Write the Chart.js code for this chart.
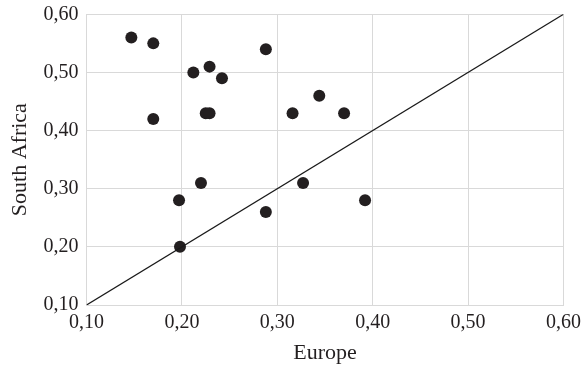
<!DOCTYPE html>
<html>
<head>
<meta charset="utf-8">
<script src="https://cdn.jsdelivr.net/npm/chart.js@4.4.0/dist/chart.umd.min.js"></script>
<style>
  html, body { margin: 0; padding: 0; background: #ffffff; }
  #wrap { width: 588px; height: 370px; position: relative; }
</style>
</head>
<body>
<div id="wrap"><canvas id="c"></canvas></div>
<script>
const europe = [0.147, 0.170, 0.288, 0.212, 0.229, 0.242, 0.170, 0.225, 0.229, 0.316, 0.344, 0.370, 0.220, 0.197, 0.198, 0.288, 0.327, 0.392];
const southAfrica = [0.56, 0.55, 0.54, 0.50, 0.51, 0.49, 0.42, 0.43, 0.43, 0.43, 0.46, 0.43, 0.31, 0.28, 0.20, 0.26, 0.31, 0.28];
const parityLineX = [0.10, 0.60];
const parityLineY = [0.10, 0.60];
const xTicks = [0.10, 0.20, 0.30, 0.40, 0.50, 0.60];
const yTicks = [0.10, 0.20, 0.30, 0.40, 0.50, 0.60];
const xTitle = 'Europe';
const yTitle = 'South Africa';

const points = europe.map((x, i) => ({ x: x, y: southAfrica[i] }));
const linePts = parityLineX.map((x, i) => ({ x: x, y: parityLineY[i] }));
const fmt = v => Number(v).toFixed(2).replace('.', ',');
const FONT = "'Liberation Serif', 'Times New Roman', serif";
const GRID = '#d9d9d9';

new Chart(document.getElementById('c'), {
  type: 'scatter',
  data: {
    datasets: [
      {
        type: 'line',
        data: linePts,
        borderColor: '#1a1a1a',
        borderWidth: 1.3,
        pointRadius: 0,
        fill: false,
        order: 1
      },
      {
        data: points,
        backgroundColor: '#231f20',
        borderWidth: 0,
        pointRadius: 6,
        pointHoverRadius: 6,
        order: 2
      }
    ]
  },
  options: {
    responsive: true,
    maintainAspectRatio: false,
    animation: false,
    events: [],
    layout: { padding: { top: 14.3, right: 24.5, left: 0, bottom: 0 } },
    plugins: { legend: { display: false }, tooltip: { enabled: false } },
    scales: {
      x: {
        type: 'linear',
        min: 0.10, max: 0.60,
        afterBuildTicks: s => { s.ticks = xTicks.map(v => ({ value: v })); },
        afterFit: s => { s.height = 65; s.paddingLeft = 0; s.paddingRight = 0; },
        grid: { color: GRID, lineWidth: 1, drawTicks: false },
        border: { color: GRID, width: 1 },
        ticks: {
          color: '#231f20', padding: 6, maxRotation: 0, autoSkip: false,
          font: { family: FONT, size: 20 },
          callback: v => fmt(v)
        },
        title: {
          display: true, text: xTitle, color: '#231f20',
          font: { family: FONT, size: 22 },
          padding: { top: 0, bottom: 4 }
        }
      },
      y: {
        type: 'linear',
        min: 0.10, max: 0.60,
        afterBuildTicks: s => { s.ticks = yTicks.map(v => ({ value: v })); },
        afterFit: s => { s.width = 86.5; s.paddingTop = 0; s.paddingBottom = 0; },
        grid: { color: GRID, lineWidth: 1, drawTicks: false },
        border: { color: GRID, width: 1 },
        ticks: {
          color: '#231f20', padding: 8, autoSkip: false,
          font: { family: FONT, size: 20 },
          callback: v => fmt(v)
        },
        title: {
          display: true, text: yTitle, color: '#231f20',
          font: { family: FONT, size: 22 },
          padding: { top: 7, bottom: 0 }
        }
      }
    }
  }
});
</script>
</body>
</html>
